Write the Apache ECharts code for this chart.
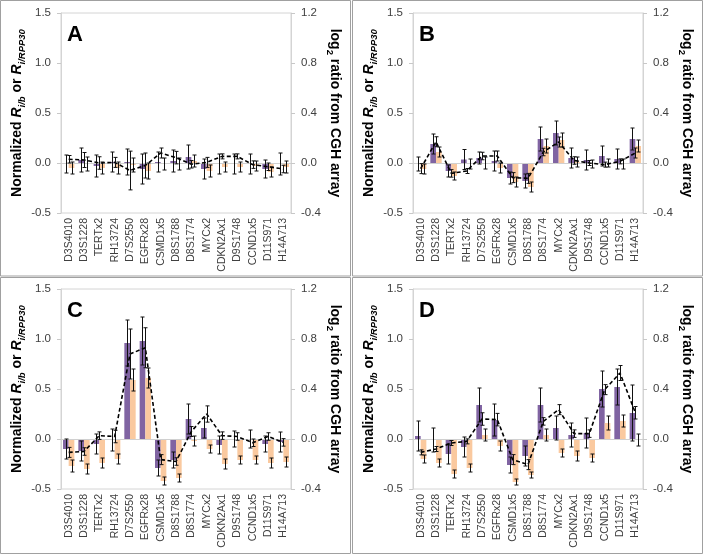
<!DOCTYPE html>
<html><head><meta charset="utf-8">
<script src="https://cdn.jsdelivr.net/npm/echarts@6/dist/echarts.min.js"></script>
<style>html,body{margin:0;padding:0;background:#fff}#c{width:704px;height:555px}</style>
</head><body><div id="c"></div>
<script>
// ---- data ----
const categories = ['D3S4010','D3S1228','TERTx2','RH13724','D7S2550','EGFRx28','CSMD1x5','D8S1788','D8S1774','MYCx2','CDKN2Ax1','D9S1748','CCND1x5','D11S971','H14A713'];
const leftTicks = { min: -0.5, max: 1.5, step: 0.5 };
const rightTicks = { min: -0.4, max: 1.2, step: 0.4 };
const panelLetters = ['A','B','C','D'];

const A_rib    = [-0.01, 0.03, -0.03, 0.01, 0.01, -0.06, 0.01, 0.02, 0.06, -0.06, -0.01, -0.01, -0.01, -0.06, -0.01];
const A_ribErr = [0.09, 0.12, 0.11, 0.10, 0.13, 0.15, 0.10, 0.11, 0.12, 0.10, 0.10, 0.10, 0.10, 0.09, 0.11];
const A_rpp    = [-0.05, -0.01, -0.05, -0.05, -0.02, -0.08, -0.01, -0.01, 0.02, -0.08, -0.04, -0.04, -0.03, -0.09, -0.04];
const A_rppErr = [0.06, 0.07, 0.06, 0.06, 0.07, 0.08, 0.06, 0.06, 0.06, 0.06, 0.05, 0.05, 0.05, 0.05, 0.06];
const A_cgh    = [0.03, 0.024, 0.0, 0.005, -0.06, -0.02, 0.08, 0.043, -0.01, 0.005, 0.053, 0.053, -0.013, -0.03, -0.048];
const A_cghErr = [0.03, 0.06, 0.05, 0.04, 0.155, 0.10, 0.04, 0.05, 0.03, 0.04, 0.02, 0.02, 0.03, 0.03, 0.03];

const B_rib    = [-0.01, 0.19, -0.08, 0.035, 0.05, 0.02, -0.15, -0.18, 0.24, 0.30, 0.05, 0.03, 0.07, 0.04, 0.24];
const B_ribErr = [0.07, 0.10, 0.06, 0.10, 0.06, 0.10, 0.06, 0.07, 0.12, 0.12, 0.10, 0.10, 0.10, 0.10, 0.11];
const B_rpp    = [-0.06, 0.11, -0.13, -0.01, 0.0, -0.05, -0.19, -0.24, 0.17, 0.23, 0.01, -0.01, 0.0, -0.01, 0.17];
const B_rppErr = [0.05, 0.05, 0.04, 0.05, 0.06, 0.05, 0.05, 0.05, 0.07, 0.07, 0.05, 0.04, 0.04, 0.05, 0.06];
const B_cgh    = [-0.045, 0.17, -0.083, -0.064, 0.056, 0.056, -0.117, -0.123, 0.088, 0.168, 0.02, 0.0, -0.013, 0.013, 0.08];
const B_cghErr = [0.04, 0.04, 0.03, 0.02, 0.03, 0.04, 0.04, 0.04, 0.03, 0.04, 0.03, 0.02, 0.02, 0.02, 0.04];

const C_rib    = [-0.10, -0.12, -0.05, -0.01, 0.96, 0.98, -0.29, -0.21, 0.20, 0.11, -0.06, 0.0, 0.0, -0.05, -0.03];
const C_ribErr = [0.10, 0.10, 0.10, 0.11, 0.23, 0.24, 0.08, 0.08, 0.15, 0.10, 0.09, 0.08, 0.09, 0.08, 0.10];
const C_rpp    = [-0.27, -0.30, -0.24, -0.20, 0.59, 0.61, -0.42, -0.39, -0.02, -0.10, -0.25, -0.21, -0.21, -0.24, -0.23];
const C_rppErr = [0.06, 0.05, 0.05, 0.05, 0.11, 0.10, 0.04, 0.04, 0.05, 0.04, 0.05, 0.04, 0.04, 0.05, 0.05];
const C_cgh    = [-0.107, -0.10, 0.027, 0.02, 0.68, 0.73, -0.165, -0.18, 0.06, 0.20, 0.027, 0.02, -0.03, 0.02, -0.027];
const C_cghErr = [0.04, 0.03, 0.03, 0.05, 0.20, 0.16, 0.04, 0.03, 0.04, 0.065, 0.03, 0.03, 0.03, 0.03, 0.03];

const D_rib    = [0.03, -0.01, -0.15, -0.08, 0.34, 0.19, -0.26, -0.17, 0.34, 0.11, 0.04, 0.06, 0.50, 0.52, 0.26];
const D_ribErr = [0.15, 0.12, 0.10, 0.10, 0.17, 0.16, 0.08, 0.10, 0.17, 0.12, 0.12, 0.15, 0.18, 0.18, 0.28];
const D_rpp    = [-0.20, -0.24, -0.35, -0.29, 0.04, -0.07, -0.43, -0.36, 0.04, -0.14, -0.17, -0.19, 0.16, 0.18, -0.01];
const D_rppErr = [0.04, 0.04, 0.04, 0.04, 0.06, 0.05, 0.03, 0.03, 0.06, 0.04, 0.05, 0.04, 0.07, 0.06, 0.06];
const D_cgh    = [-0.107, -0.08, -0.032, -0.019, 0.16, 0.155, -0.165, -0.205, 0.141, 0.235, 0.043, 0.043, 0.395, 0.528, 0.21];
const D_cghErr = [0.02, 0.02, 0.02, 0.02, 0.05, 0.05, 0.04, 0.04, 0.03, 0.04, 0.03, 0.03, 0.04, 0.06, 0.05];

// ---- build ----
const panelData = [
  [A_rib, A_ribErr, A_rpp, A_rppErr, A_cgh, A_cghErr],
  [B_rib, B_ribErr, B_rpp, B_rppErr, B_cgh, B_cghErr],
  [C_rib, C_ribErr, C_rpp, C_rppErr, C_cgh, C_cghErr],
  [D_rib, D_ribErr, D_rpp, D_rppErr, D_cgh, D_cghErr]
];
const FONT = '"Liberation Sans", Arial, sans-serif';
const PURPLE = '#8064A2', TAN = '#FAC99F';
const BARW = 0.37;
const gridPos = [
  {left: 61, top: 13}, {left: 413, top: 13},
  {left: 61, top: 289}, {left: 413, top: 289}
];

function errRender(params, api) {
  const x = api.value(0), lo = api.value(1), hi = api.value(2), off = api.value(3);
  const band = api.size([1, 0])[0];
  const p0 = api.coord([x, lo]), p1 = api.coord([x, hi]);
  const cx = Math.round(p0[0] + off * band * BARW / 2) + 0.5;
  const cap = 2;
  const st = {stroke: '#111', lineWidth: 1};
  return {type: 'group', children: [
    {type: 'line', shape: {x1: cx, y1: p0[1], x2: cx, y2: p1[1]}, style: st},
    {type: 'line', shape: {x1: cx - cap, y1: p0[1], x2: cx + cap, y2: p0[1]}, style: st},
    {type: 'line', shape: {x1: cx - cap, y1: p1[1], x2: cx + cap, y2: p1[1]}, style: st}
  ]};
}

const grids = [], xAxes = [], yAxes = [], series = [], graphics = [];
const rich = {
  t: {fontSize: 14, fontWeight: 'bold', fontFamily: FONT, color: '#000', lineHeight: 20},
  i: {fontSize: 14, fontWeight: 'bold', fontStyle: 'italic', fontFamily: FONT, color: '#000', lineHeight: 20},
  s: {fontSize: 9.5, fontWeight: 'bold', fontStyle: 'italic', fontFamily: FONT, color: '#000', lineHeight: 10, verticalAlign: 'bottom'},
  n: {fontSize: 9.5, fontWeight: 'bold', fontFamily: FONT, color: '#000', lineHeight: 10, verticalAlign: 'bottom'}
};

panelData.forEach((pd, k) => {
  const [rib, ribErr, rpp, rppErr, cgh, cghErr] = pd;
  grids.push({left: gridPos[k].left, top: gridPos[k].top, width: 230, height: 200,
    show: true, borderColor: '#d4d4d4', borderWidth: 1, backgroundColor: 'transparent'});
  xAxes.push({type: 'category', gridIndex: k, data: categories,
    axisLine: {show: false}, axisTick: {show: false},
    axisLabel: {rotate: 90, interval: 0, fontSize: 10.5, color: '#404040', fontFamily: FONT, margin: 5}});
  yAxes.push({type: 'value', gridIndex: k, position: 'left', min: leftTicks.min, max: leftTicks.max, interval: leftTicks.step,
    axisLine: {show: true, lineStyle: {color: '#d4d4d4'}}, axisTick: {show: true, length: 4, lineStyle: {color: '#c8c8c8'}},
    splitLine: {show: false},
    axisLabel: {formatter: v => v.toFixed(1), fontSize: 11.5, color: '#404040', fontFamily: FONT, margin: 10},
    name: '{t|Normalized }{i|R}{s|i/b}{t| or }{i|R}{s|i/RPP30}',
    nameLocation: 'middle', nameGap: 29, nameRotate: 90, nameTextStyle: {rich: rich}});
  yAxes.push({type: 'value', gridIndex: k, position: 'right', min: rightTicks.min, max: rightTicks.max, interval: rightTicks.step,
    axisLine: {show: true, lineStyle: {color: '#d4d4d4'}}, axisTick: {show: true, length: 4, lineStyle: {color: '#c8c8c8'}},
    splitLine: {show: false},
    axisLabel: {formatter: v => v.toFixed(1), fontSize: 11.5, color: '#404040', fontFamily: FONT, margin: 10},
    name: '{t|log}{n|2}{t| ratio from CGH array}',
    nameLocation: 'middle', nameGap: 31, nameRotate: -90, nameTextStyle: {rich: rich}});
  const yl = 2 * k, yr = 2 * k + 1;
  series.push({type: 'bar', xAxisIndex: k, yAxisIndex: yl, data: rib, barWidth: (BARW * 100) + '%', barGap: '0%',
    itemStyle: {color: PURPLE}, z: 2,
    markLine: {silent: true, symbol: ['none', 'none'], label: {show: false},
      lineStyle: {color: '#d0d0d0', type: 'solid', width: 1}, data: [{yAxis: 0}]}});
  series.push({type: 'bar', xAxisIndex: k, yAxisIndex: yl, data: rpp, barWidth: (BARW * 100) + '%', barGap: '0%',
    itemStyle: {color: TAN}, z: 2});
  const errData = [];
  rib.forEach((v, i) => errData.push([i, v - ribErr[i], v + ribErr[i], -1]));
  rpp.forEach((v, i) => errData.push([i, v - rppErr[i], v + rppErr[i], 1]));
  series.push({type: 'custom', xAxisIndex: k, yAxisIndex: yl, data: errData, renderItem: errRender, z: 5, silent: true});
  series.push({type: 'line', xAxisIndex: k, yAxisIndex: yr, data: cgh, symbol: 'none', z: 6,
    lineStyle: {color: '#000', width: 1.6, type: [4, 2.5]}});
  const cErr = cgh.map((v, i) => [i, v - cghErr[i], v + cghErr[i], 0]);
  series.push({type: 'custom', xAxisIndex: k, yAxisIndex: yr, data: cErr, renderItem: errRender, z: 7, silent: true});
  graphics.push({type: 'text', left: gridPos[k].left + 6, top: gridPos[k].top + 11,
    style: {text: panelLetters[k], font: 'bold 22px ' + FONT, fill: '#000'}});
});

// panel frames
graphics.push({type: 'rect', shape: {x: 0.5, y: 0.5, width: 350, height: 275.5}, style: {fill: 'none', stroke: '#a0a0a0', lineWidth: 1}, z: 100});
graphics.push({type: 'rect', shape: {x: 352.5, y: 0.5, width: 350, height: 275.5}, style: {fill: 'none', stroke: '#a0a0a0', lineWidth: 1}, z: 100});
graphics.push({type: 'rect', shape: {x: 0.5, y: 277.5, width: 350, height: 276}, style: {fill: 'none', stroke: '#a0a0a0', lineWidth: 1}, z: 100});
graphics.push({type: 'rect', shape: {x: 352.5, y: 277.5, width: 350, height: 276}, style: {fill: 'none', stroke: '#a0a0a0', lineWidth: 1}, z: 100});

const chart = echarts.init(document.getElementById('c'), null, {renderer: 'canvas'});
chart.setOption({
  animation: false,
  backgroundColor: '#fff',
  grid: grids, xAxis: xAxes, yAxis: yAxes, series: series, graphic: graphics
});
</script></body></html>
